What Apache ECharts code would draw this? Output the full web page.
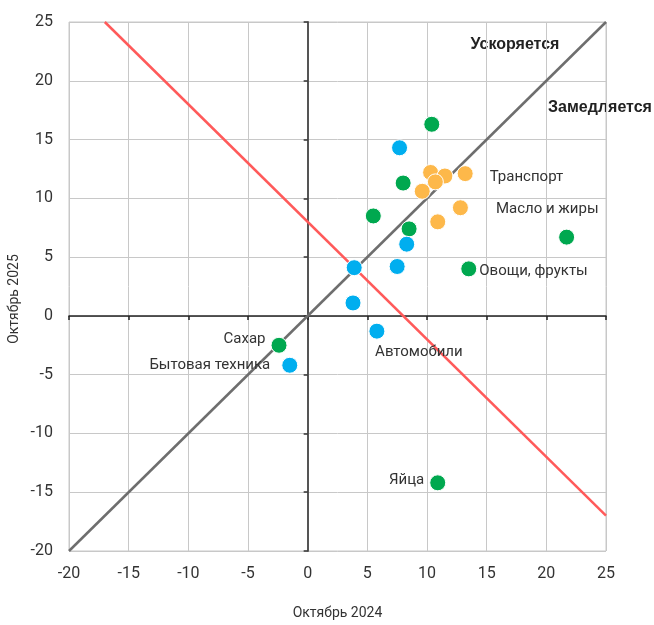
<!DOCTYPE html>
<html>
<head>
<meta charset="utf-8">
<script src="https://cdn.jsdelivr.net/npm/echarts@6/dist/echarts.min.js"></script>
<style>
    html, body { margin: 0; padding: 0; background: #fff; }
    #chart01 { width: 654px; height: 625px; }
</style>
</head>
<body>
<div id="chart01"></div>
<script>
/* 데이터: [Октябрь 2024, Октябрь 2025, подпись] */
var greenPoints = [
    [10.4, 16.3, ''],
    [8.0, 11.3, ''],
    [5.5, 8.5, ''],
    [8.5, 7.4, ''],
    [21.7, 6.7, ''],
    [13.5, 4.0, 'Овощи, фрукты'],
    [-2.4, -2.5, 'Сахар'],
    [10.9, -14.2, 'Яйца']
];
var bluePoints = [
    [7.7, 14.3, ''],
    [8.3, 6.1, ''],
    [3.9, 4.1, ''],
    [7.5, 4.2, ''],
    [3.8, 1.1, ''],
    [5.8, -1.3, 'Автомобили'],
    [-1.5, -4.2, 'Бытовая техника']
];
var orangePoints = [
    [10.3, 12.2, ''],
    [11.5, 11.9, ''],
    [10.7, 11.4, ''],
    [9.6, 10.6, ''],
    [13.2, 12.1, 'Транспорт'],
    [12.8, 9.2, 'Масло и жиры'],
    [10.9, 8.0, '']
];
var diagLine = [[-20, -20], [25, 25]];
var redLine = [[-17, 25], [25, -17]];
var axisMin = -20;
var axisMax = 25;
var axisStep = 5;

/* 라벨 위치 */
var labelPos = {
    'Овощи, фрукты': { position: 'right', offset: [-3, 2] },
    'Сахар': { position: 'left', offset: [0, -6] },
    'Яйца': { position: 'left', offset: [0, -3] },
    'Автомобили': { position: 'bottom', offset: [42, 0] },
    'Бытовая техника': { position: 'left', offset: [-6, 0] },
    'Транспорт': { position: 'right', offset: [11, 4] },
    'Масло и жиры': { position: 'right', offset: [22, 2] }
};

function makePoints(list){
    return list.map(function(p){
        var item = { value: [p[0], p[1]], name: p[2] };
        if(p[2]){
            var lp = labelPos[p[2]];
            item.label = {
                show: true,
                formatter: '{b}',
                position: lp.position,
                offset: lp.offset,
                color: '#333',
                fontSize: 15,
                fontFamily: 'Roboto'
            };
        }
        return item;
    });
}

function pointSeries(list, color){
    return {
        type: 'scatter',
        data: makePoints(list),
        symbol: 'circle',
        symbolSize: 16,
        z: 5,
        itemStyle: {
            color: color,
            opacity: 1,
            borderColor: '#fff',
            borderWidth: 1
        }
    };
}

var chart01 = document.getElementById('chart01');
var myChart01 = echarts.init(chart01);

var baseAxis = {
    type: 'value',
    min: axisMin,
    max: axisMax,
    interval: axisStep
};

option = {
    animation: false,
    grid: {
        left: 69,
        right: 48,
        top: 22,
        bottom: 74
    },
    xAxis: [
        Object.assign({}, baseAxis, {
            position: 'bottom',
            name: 'Октябрь 2024',
            nameLocation: 'middle',
            nameGap: 55,
            nameTextStyle: { color: '#333', fontSize: 14, fontFamily: 'Roboto' },
            axisLine: { show: false, onZero: false },
            axisTick: { show: false },
            axisLabel: { color: '#333', fontSize: 16, margin: 15, fontFamily: 'Roboto' },
            splitLine: { show: true, lineStyle: { color: '#c8c8c8', width: 1 } }
        }),
        Object.assign({}, baseAxis, {
            position: 'bottom',
            axisLine: { show: true, onZero: true, onZeroAxisIndex: 0, lineStyle: { color: '#222', width: 1.5 } },
            axisTick: { show: true, length: 4, lineStyle: { color: '#222', width: 1.5 } },
            axisLabel: { show: false },
            splitLine: { show: false }
        })
    ],
    yAxis: [
        Object.assign({}, baseAxis, {
            position: 'left',
            axisLine: { show: false, onZero: false },
            axisTick: { show: false },
            axisLabel: { color: '#333', fontSize: 16, margin: 16, fontFamily: 'Roboto' },
            splitLine: { show: true, lineStyle: { color: '#c8c8c8', width: 1 } }
        }),
        Object.assign({}, baseAxis, {
            position: 'left',
            axisLine: { show: true, onZero: true, onZeroAxisIndex: 0, lineStyle: { color: '#555', width: 2 } },
            axisTick: { show: true, length: 4, lineStyle: { color: '#333', width: 1.5 } },
            axisLabel: { show: false },
            splitLine: { show: false }
        })
    ],
    graphic: [
        {
            type: 'rect',
            shape: { x: 69, y: 22, width: 537, height: 529 },
            style: { fill: 'none', stroke: '#c8c8c8', lineWidth: 1 },
            z: 0,
            silent: true
        },
        {
            type: 'text',
            x: 14,
            y: 299,
            rotation: Math.PI / 2,
            style: {
                text: 'Октябрь 2025',
                font: '14px Roboto',
                fill: '#333',
                align: 'center',
                verticalAlign: 'middle'
            }
        },
        {
            type: 'text',
            x: 515,
            y: 45,
            style: { text: 'Ускоряется', font: 'bold 16px "Liberation Sans"', fill: '#222', align: 'center', verticalAlign: 'middle' }
        },
        {
            type: 'text',
            x: 600,
            y: 108,
            style: { text: 'Замедляется', font: 'bold 16px "Liberation Sans"', fill: '#222', align: 'center', verticalAlign: 'middle' }
        }
    ],
    series: [
        {
            type: 'line',
            data: diagLine,
            symbol: 'none',
            z: 3,
            lineStyle: { color: '#6e6e6e', width: 2.5 }
        },
        {
            type: 'line',
            data: redLine,
            symbol: 'none',
            z: 3,
            lineStyle: { color: '#ff5a5a', width: 2.5 }
        },
        pointSeries(greenPoints, '#00a84f'),
        pointSeries(bluePoints, '#00aeef'),
        pointSeries(orangePoints, '#fdb84a')
    ]
};

option && myChart01.setOption(option);
new ResizeObserver(() => myChart01.resize()).observe(chart01);
</script>
</body>
</html>
